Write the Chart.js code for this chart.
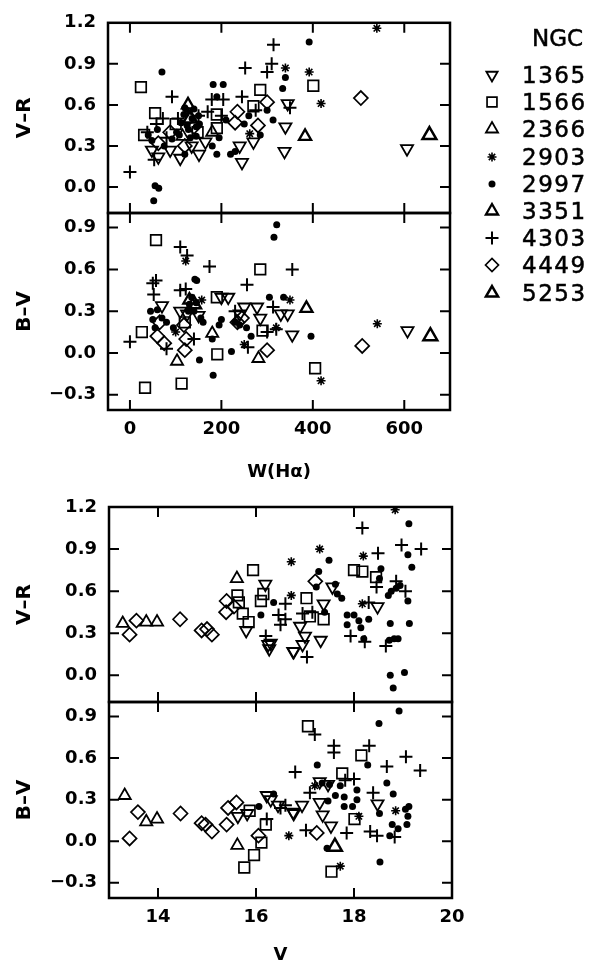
<!DOCTYPE html>
<html>
<head>
<meta charset="utf-8">
<script src="https://cdn.jsdelivr.net/npm/chart.js@4.4.1/dist/chart.umd.min.js"></script>
<style>
  html, body { margin: 0; padding: 0; background: #fff; }
  #page { position: relative; width: 592px; height: 964px; overflow: hidden; }
  #page canvas.panel { position: absolute; left: 0; top: 0; }
  #legend { position: absolute; left: 0; top: 0; font-family: 'DejaVu Sans', sans-serif; color: #000; -webkit-text-stroke: 0.5px #000; }
  #legend .head { position: absolute; left: 532px; top: 24px; font-size: 23px; line-height: 28px; }
  #legend .row { position: absolute; left: 478px; height: 28px; display: flex; align-items: center; }
  #legend .row span { margin-left: 16px; font-size: 23px; letter-spacing: 1.5px; line-height: 28px; }
</style>
</head>
<body>
<div id="page">
  <canvas class="panel" id="c1" width="592" height="964"></canvas>
  <canvas class="panel" id="c2" width="592" height="964"></canvas>
  <canvas class="panel" id="c3" width="592" height="964"></canvas>
  <canvas class="panel" id="c4" width="592" height="964"></canvas>
  <div id="legend"><div class="head">NGC</div></div>
</div>
<script>
// clusters, in legend order
var clusters = ['1365', '1566', '2366', '2903', '2997', '3351', '4303', '4449', '5253'];

// tick labels
var wTicks = [0, 200, 400, 600];
var vTicks = [14, 16, 18, 20];
var vrTicks = [0.0, 0.3, 0.6, 0.9, 1.2];
var bvTicks = [-0.3, 0.0, 0.3, 0.6, 0.9];

// [cluster, W(Ha), V-R]
var wVR = [
  ['1365',62,0.22],['1365',110,0.21],['1365',151,0.24],['1365',48,0.27],['1365',240,0.30],['1365',245,0.18],['1365',270,0.33],
  ['1365',340,0.44],['1365',338,0.26],['1365',345,0.61],['1365',606,0.28],['1365',88,0.27],['1365',135,0.30],['1365',165,0.33],
  ['1566',24,0.73],['1566',31,0.38],['1566',55,0.54],['1566',190,0.53],['1566',190,0.43],['1566',270,0.59],['1566',285,0.71],
  ['1566',401,0.74],['1566',148,0.40],['1566',100,0.46],
  ['2366',180,0.40],['2366',115,0.37],
  ['2903',340,0.87],['2903',392,0.84],['2903',418,0.61],['2903',540,1.16],['2903',128,0.55],['2903',262,0.39],
  ['2997',70,0.84],['2997',55,0.01],['2997',63,-0.01],['2997',52,-0.10],['2997',120,0.24],['2997',180,0.30],['2997',190,0.24],
  ['2997',220,0.24],['2997',230,0.26],['2997',195,0.36],['2997',182,0.75],['2997',204,0.75],['2997',190,0.66],['2997',340,0.80],
  ['2997',334,0.72],['2997',313,0.49],['2997',300,0.56],['2997',285,0.38],['2997',392,1.06],['2997',40,0.38],['2997',48,0.34],
  ['2997',60,0.42],['2997',92,0.35],['2997',102,0.40],['2997',112,0.47],['2997',128,0.42],['2997',136,0.50],['2997',145,0.37],
  ['2997',152,0.46],['2997',118,0.53],['2997',140,0.57],['2997',260,0.52],['2997',250,0.46],['2997',210,0.49],['2997',125,0.45],
  ['2997',108,0.38],['2997',145,0.44],['2997',75,0.30],['2997',132,0.36],['2997',150,0.52],['2997',120,0.58],
  ['3351',127,0.60],['3351',383,0.37],
  ['4303',0,0.11],['4303',53,0.20],['4303',92,0.66],['4303',179,0.64],['4303',204,0.64],['4303',245,0.66],['4303',252,0.87],
  ['4303',300,0.84],['4303',310,0.90],['4303',314,1.04],['4303',350,0.58],['4303',58,0.46],['4303',80,0.36],['4303',105,0.50],
  ['4303',150,0.52],['4303',170,0.55],['4303',72,0.50],['4303',200,0.52],['4303',275,0.56],['4303',38,0.40],
  ['4449',235,0.55],['4449',280,0.45],['4449',230,0.47],['4449',505,0.65],['4449',62,0.32],['4449',88,0.40],['4449',120,0.30],
  ['4449',140,0.44],['4449',300,0.62],
  ['5253',655,0.38],['5253',132,0.50]
];

// [cluster, W(Ha), B-V]
var wBV = [
  ['1365',70,0.34],['1365',110,0.30],['1365',125,0.28],['1365',150,0.27],['1365',200,0.40],['1365',215,0.40],['1365',250,0.33],
  ['1365',278,0.33],['1365',285,0.25],['1365',330,0.28],['1365',345,0.28],['1365',355,0.13],['1365',607,0.16],['1365',240,0.28],
  ['1566',57,0.81],['1566',285,0.60],['1566',190,0.40],['1566',26,0.15],['1566',33,-0.25],['1566',113,-0.22],['1566',191,-0.01],
  ['1566',290,0.16],['1566',405,-0.11],['1566',120,0.22],
  ['2366',103,-0.06],['2366',180,0.14],['2366',281,-0.04],
  ['2903',122,0.66],['2903',157,0.38],['2903',250,0.06],['2903',350,0.38],['2903',541,0.21],['2903',418,-0.20],['2903',100,0.15],
  ['2903',320,0.18],
  ['2997',321,0.92],['2997',315,0.83],['2997',142,0.53],['2997',146,0.52],['2997',45,0.30],['2997',50,0.24],['2997',60,0.31],
  ['2997',70,0.25],['2997',55,0.18],['2997',80,0.22],['2997',95,0.18],['2997',130,0.35],['2997',135,0.40],['2997',140,0.30],
  ['2997',155,0.25],['2997',160,0.22],['2997',152,-0.05],['2997',182,-0.16],['2997',222,0.01],['2997',195,0.20],['2997',200,0.24],
  ['2997',180,0.10],['2997',305,0.40],['2997',336,0.40],['2997',396,0.12],['2997',240,0.20],['2997',255,0.18],['2997',265,0.12],
  ['2997',230,0.22],['2997',128,0.30],['2997',145,0.36],
  ['3351',386,0.32],['3351',130,0.38],
  ['4303',0,0.08],['4303',50,0.50],['4303',57,0.52],['4303',52,0.42],['4303',110,0.45],['4303',122,0.46],['4303',110,0.76],
  ['4303',125,0.70],['4303',174,0.62],['4303',256,0.49],['4303',355,0.60],['4303',313,0.33],['4303',320,0.17],['4303',258,0.04],
  ['4303',80,0.03],['4303',140,0.10],['4303',230,0.30],['4303',300,0.15],
  ['4449',60,0.12],['4449',75,0.07],['4449',120,0.02],['4449',123,0.10],['4449',118,0.20],['4449',245,0.25],['4449',300,0.02],
  ['4449',508,0.05],['4449',65,0.22],['4449',235,0.22],
  ['5253',657,0.12],['5253',140,0.35]
];

// [cluster, V, V-R]
var vVR = [
  ['1365',15.80,0.32],['1365',16.19,0.65],['1365',16.25,0.22],['1365',16.27,0.19],['1365',16.76,0.17],['1365',17.56,0.63],
  ['1365',17.38,0.51],['1365',16.90,0.35],['1365',17.00,0.28],['1365',16.77,0.17],['1365',17.32,0.25],['1365',18.48,0.49],
  ['1365',16.95,0.22],['1365',16.30,0.23],
  ['1566',15.62,0.57],['1566',15.73,0.44],['1566',15.85,0.38],['1566',15.94,0.75],['1566',16.10,0.53],['1566',16.15,0.58],
  ['1566',17.03,0.55],['1566',17.10,0.42],['1566',17.38,0.40],['1566',18.00,0.75],['1566',18.17,0.74],['1566',18.45,0.70],
  ['1566',15.65,0.52],
  ['2366',13.28,0.37],['2366',13.76,0.38],['2366',13.98,0.38],['2366',15.61,0.69],
  ['2903',16.72,0.81],['2903',16.72,0.57],['2903',17.30,0.90],['2903',18.19,0.85],['2903',18.84,1.18],['2903',18.17,0.51],
  ['2997',16.36,0.52],['2997',16.10,0.43],['2997',17.49,0.82],['2997',17.28,0.74],['2997',17.23,0.63],['2997',17.62,0.65],
  ['2997',17.66,0.58],['2997',19.12,1.08],['2997',19.10,0.86],['2997',19.18,0.77],['2997',18.55,0.76],['2997',18.52,0.69],
  ['2997',18.76,0.60],['2997',18.86,0.62],['2997',18.94,0.64],['2997',18.70,0.57],['2997',19.10,0.53],['2997',17.86,0.43],
  ['2997',18.00,0.43],['2997',18.10,0.39],['2997',18.14,0.34],['2997',17.86,0.36],['2997',18.20,0.26],['2997',18.30,0.40],
  ['2997',18.74,0.37],['2997',19.13,0.37],['2997',18.72,0.25],['2997',18.82,0.26],['2997',18.90,0.26],['2997',18.74,0.00],
  ['2997',19.03,0.02],['2997',18.80,-0.09],['2997',17.75,0.55],['2997',17.40,0.45],
  ['4303',16.20,0.28],['4303',16.46,0.43],['4303',16.60,0.51],['4303',16.50,0.36],['4303',18.17,1.05],['4303',18.97,0.93],
  ['4303',19.37,0.90],['4303',18.49,0.87],['4303',18.46,0.63],['4303',18.86,0.67],['4303',19.05,0.60],['4303',17.04,0.13],
  ['4303',17.93,0.28],['4303',18.30,0.52],['4303',18.65,0.21],['4303',16.60,0.40],['4303',17.15,0.45],['4303',16.95,0.44],
  ['4303',18.22,0.24],
  ['4449',13.42,0.29],['4449',13.56,0.39],['4449',14.45,0.40],['4449',14.89,0.32],['4449',15.00,0.33],['4449',15.10,0.29],
  ['4449',15.39,0.45],['4449',15.40,0.53],['4449',15.55,0.49],['4449',17.21,0.67]
];

// [cluster, V, B-V]
var vBV = [
  ['1365',15.63,0.18],['1365',15.82,0.20],['1365',16.22,0.33],['1365',16.30,0.30],['1365',16.45,0.26],['1365',16.76,0.21],
  ['1365',17.30,0.43],['1365',17.47,0.41],['1365',18.48,0.27],['1365',17.30,0.28],['1365',16.94,0.26],['1365',16.77,0.20],
  ['1365',17.36,0.19],['1365',17.53,0.11],
  ['1566',15.87,0.22],['1566',15.76,-0.19],['1566',15.96,-0.10],['1566',16.11,-0.01],['1566',16.20,0.12],['1566',17.06,0.83],
  ['1566',18.15,0.62],['1566',17.76,0.49],['1566',18.01,0.16],['1566',17.54,-0.22],
  ['2366',13.32,0.33],['2366',13.76,0.14],['2366',13.98,0.16],['2366',15.62,-0.03],
  ['2903',16.67,0.04],['2903',18.85,0.22],['2903',17.72,-0.18],['2903',17.20,0.40],['2903',18.10,0.18],
  ['2997',16.06,0.25],['2997',16.36,0.34],['2997',18.92,0.94],['2997',18.51,0.85],['2997',17.25,0.55],['2997',18.28,0.55],
  ['2997',18.67,0.42],['2997',18.80,0.34],['2997',17.50,0.41],['2997',17.72,0.40],['2997',18.06,0.37],['2997',17.62,0.33],
  ['2997',17.80,0.32],['2997',18.06,0.30],['2997',17.47,0.29],['2997',17.80,0.25],['2997',17.97,0.25],['2997',18.52,0.20],
  ['2997',19.05,0.23],['2997',19.10,0.18],['2997',19.08,0.12],['2997',18.78,0.12],['2997',18.90,0.09],['2997',18.73,0.04],
  ['2997',17.45,-0.05],['2997',18.53,-0.15],['2997',17.35,0.42],['2997',19.12,0.25],
  ['4303',17.20,0.77],['4303',17.59,0.69],['4303',17.59,0.64],['4303',18.31,0.69],['4303',19.06,0.61],['4303',19.35,0.51],
  ['4303',16.80,0.50],['4303',18.67,0.54],['4303',18.00,0.45],['4303',17.82,0.44],['4303',18.39,0.35],['4303',17.02,0.08],
  ['4303',17.85,0.06],['4303',18.33,0.07],['4303',18.47,0.04],['4303',18.83,0.03],['4303',16.22,0.16],['4303',16.50,0.24],
  ['4303',16.60,0.26],['4303',17.10,0.35],
  ['4449',13.42,0.02],['4449',13.59,0.21],['4449',14.46,0.20],['4449',14.89,0.13],['4449',14.97,0.12],['4449',15.10,0.07],
  ['4449',15.40,0.12],['4449',15.43,0.24],['4449',15.60,0.28],['4449',16.05,0.04],['4449',17.24,0.06],
  ['5253',17.61,-0.04]
];

// marker look for each cluster (lr = radius in the legend)
var marker = {
  '1365': {style: 'triangle', rot: 180, r: 7, lr: 6.5, bw: 1.8, fill: false},
  '1566': {style: 'rect', rot: 0, r: 7.5, lr: 7, bw: 1.7, fill: false},
  '2366': {style: 'triangle', rot: 0, r: 7, lr: 7, bw: 1.8, fill: false},
  '2903': {style: 'star', rot: 0, r: 4.5, lr: 4.5, bw: 1.6, fill: false},
  '2997': {style: 'circle', rot: 0, r: 3.5, lr: 3.5, bw: 0, fill: true},
  '3351': {style: 'triangle', rot: 0, r: 7, lr: 7, bw: 2.3, fill: false},
  '4303': {style: 'cross', rot: 0, r: 6.5, lr: 6.5, bw: 2, fill: false},
  '4449': {style: 'rectRot', rot: 0, r: 7, lr: 6.5, bw: 1.7, fill: false},
  '5253': {style: 'triangle', rot: 0, r: 8, lr: 7, bw: 2.5, fill: false}
};

function makeSets(rows) {
  return clusters.map(function(c) {
    var m = marker[c];
    return {
      label: 'NGC ' + c,
      data: rows.filter(function(r) { return r[0] === c; }).map(function(r) { return {x: r[1], y: r[2]}; }),
      showLine: false,
      pointStyle: m.style,
      pointRotation: m.rot,
      pointRadius: m.r,
      pointBorderWidth: m.bw,
      pointBorderColor: '#000',
      pointBackgroundColor: m.fill ? '#000' : 'rgba(0,0,0,0)'
    };
  });
}

function fmt(v) {
  var s = Math.abs(v).toFixed(1);
  return v < -1e-9 ? '\u2212' + s : s;
}

// box round the plot, with inward tick marks on all four sides
var frame = {
  id: 'frame',
  afterDraw: function(chart, args, opts) {
    var ctx = chart.ctx, a = chart.chartArea, L = 10;
    var sx = chart.scales.x, sy = chart.scales.y;
    ctx.save();
    ctx.strokeStyle = '#000';
    ctx.lineWidth = 2;
    ctx.beginPath();
    opts.xTicks.forEach(function(v) {
      var x = sx.getPixelForValue(v);
      if (x < a.left + 2 || x > a.right - 2) return;
      ctx.moveTo(x, a.top); ctx.lineTo(x, a.top + L);
      ctx.moveTo(x, a.bottom); ctx.lineTo(x, a.bottom - L);
    });
    opts.yTicks.forEach(function(v) {
      var y = sy.getPixelForValue(v);
      if (y < a.top + 2 || y > a.bottom - 2) return;
      ctx.moveTo(a.left, y); ctx.lineTo(a.left + L, y);
      ctx.moveTo(a.right, y); ctx.lineTo(a.right - L, y);
    });
    ctx.stroke();
    ctx.lineWidth = 2.5;
    ctx.strokeRect(a.left, a.top, a.right - a.left, a.bottom - a.top);
    ctx.restore();
  }
};

var tickFont = {family: 'DejaVu Sans', size: 18, weight: 'bold'};

function panel(id, rows, p) {
  var xAxis = {
    type: 'linear', min: p.xMin, max: p.xMax, display: p.xShow,
    grid: {display: false, drawTicks: false}, border: {display: false},
    afterBuildTicks: function(s) { s.ticks = p.xTicks.map(function(v) { return {value: v}; }); },
    ticks: {font: tickFont, color: '#000', padding: 9, maxRotation: 0, autoSkip: false,
            callback: function(v) { return String(v); }},
    title: {display: !!p.xTitle, text: p.xTitle, color: '#000',
            font: {family: 'DejaVu Sans', size: 18, weight: 'bold', lineHeight: 1.0}, padding: {top: 0, bottom: 0}}
  };
  if (p.xShow) xAxis.afterFit = function(s) { s.height = p.xHeight; };
  return new Chart(document.getElementById(id), {
    type: 'scatter',
    data: {datasets: makeSets(rows)},
    plugins: [frame],
    options: {
      responsive: false,
      animation: false,
      events: [],
      layout: {padding: p.pad},
      plugins: {
        legend: {display: false},
        tooltip: {enabled: false},
        frame: {xTicks: p.xTicks, yTicks: p.yTicks}
      },
      scales: {
        x: xAxis,
        y: {
          type: 'linear', min: p.yMin, max: p.yMax,
          grid: {display: false, drawTicks: false}, border: {display: false},
          afterFit: function(s) { s.width = p.yWidth; },
          afterBuildTicks: function(s) { s.ticks = p.yTicks.map(function(v) { return {value: v}; }); },
          ticks: {font: tickFont, color: '#000', padding: 12, autoSkip: false, callback: fmt},
          title: {display: true, text: p.yTitle, color: '#000',
                  font: {family: 'DejaVu Sans', size: 20, weight: 'bold', lineHeight: 1.0}, padding: {top: 15, bottom: 0}}
        }
      }
    }
  });
}

panel('c1', wVR, {xMin: -48, xMax: 700, yMin: -0.19, yMax: 1.2, xTicks: wTicks, yTicks: vrTicks,
  xShow: false, yWidth: 108, yTitle: 'V\u2013R', pad: {left: 0, top: 21, right: 142, bottom: 751}});
panel('c2', wBV, {xMin: -48, xMax: 700, yMin: -0.41, yMax: 1.005, xTicks: wTicks, yTicks: bvTicks,
  xShow: true, xHeight: 71, xTitle: 'W(H\u03b1)', yWidth: 108, yTitle: 'B\u2013V', pad: {left: 0, top: 213, right: 142, bottom: 483}});
panel('c3', vVR, {xMin: 13, xMax: 20, yMin: -0.19, yMax: 1.2, xTicks: vTicks, yTicks: vrTicks,
  xShow: false, yWidth: 109, yTitle: 'V\u2013R', pad: {left: 0, top: 507, right: 140, bottom: 262}});
panel('c4', vBV, {xMin: 13, xMax: 20, yMin: -0.41, yMax: 1.005, xTicks: vTicks, yTicks: bvTicks,
  xShow: true, xHeight: 66, xTitle: 'V', yWidth: 109, yTitle: 'B\u2013V', pad: {left: 0, top: 702, right: 140, bottom: 0}});

// legend: marker drawn with Chart.js point helper, label as text
var legend = document.getElementById('legend');
clusters.forEach(function(c, i) {
  var m = marker[c];
  var row = document.createElement('div');
  row.className = 'row';
  row.style.top = (75 + 27.2 * i - 14) + 'px';
  var cv = document.createElement('canvas');
  cv.width = 28; cv.height = 28;
  row.appendChild(cv);
  var sp = document.createElement('span');
  sp.textContent = c;
  row.appendChild(sp);
  legend.appendChild(row);
  var ctx = cv.getContext('2d');
  ctx.strokeStyle = '#000';
  ctx.fillStyle = m.fill ? '#000' : 'rgba(0,0,0,0)';
  ctx.lineWidth = m.bw;
  if (Chart.helpers && Chart.helpers.drawPoint) {
    Chart.helpers.drawPoint(ctx, {pointStyle: m.style, rotation: m.rot, radius: m.lr, borderWidth: m.bw}, 14, 14);
  }
});
</script>
</body>
</html>
